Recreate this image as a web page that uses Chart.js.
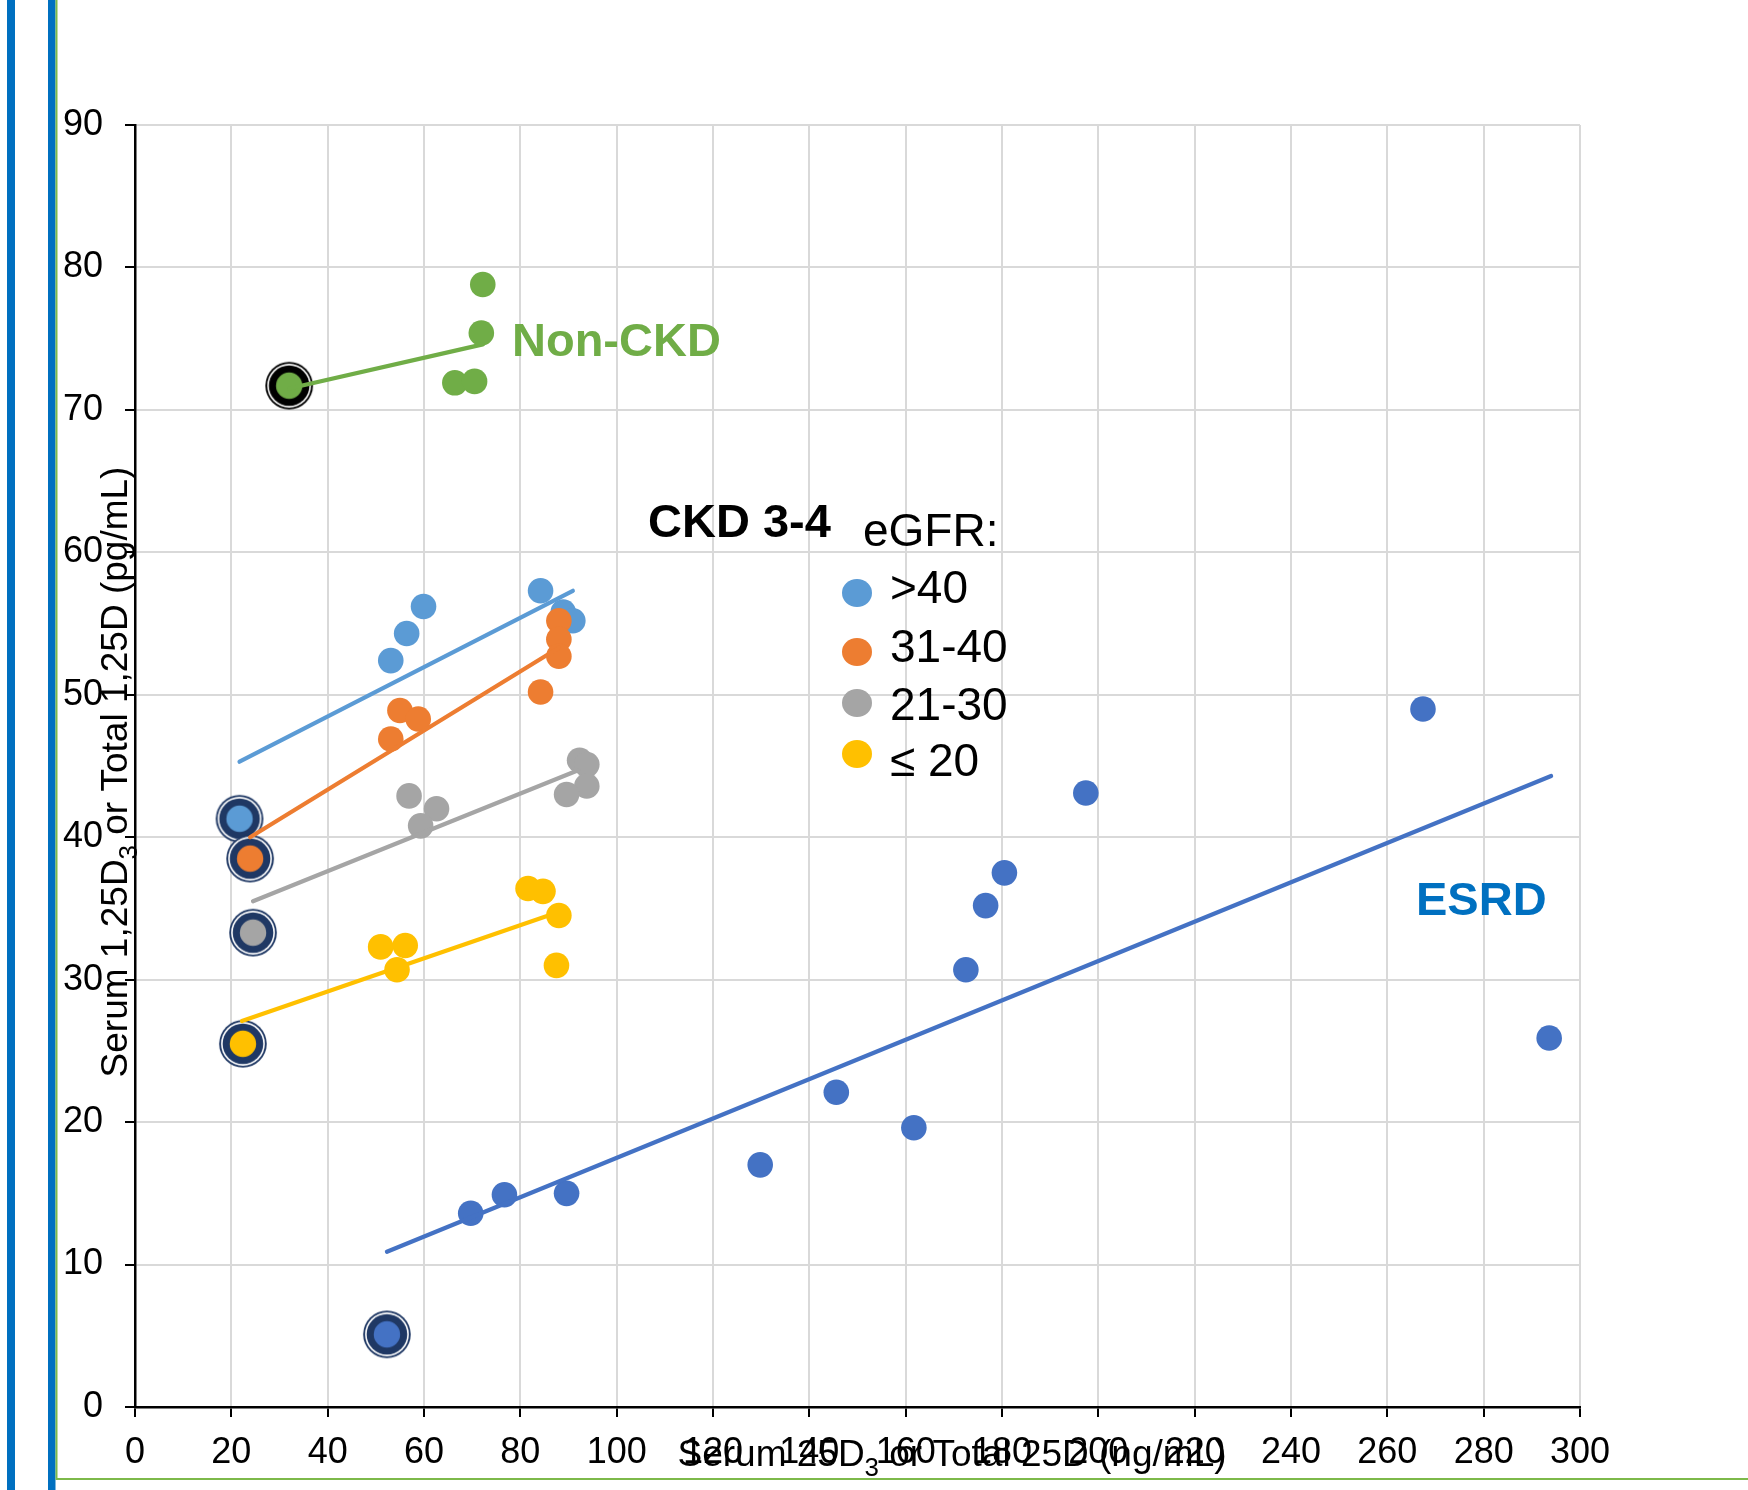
<!DOCTYPE html>
<html>
<head>
<meta charset="utf-8">
<title>Serum 1,25D vs 25D</title>
<script src="https://cdn.jsdelivr.net/npm/chart.js@4.4.1/dist/chart.umd.min.js"></script>
<style>
  html, body { margin: 0; padding: 0; background: #fff; }
  canvas { display: block; }
</style>
</head>
<body>
<canvas id="chart" width="1748" height="1490"></canvas>
<script>
// ---- axes ----
var xTicks = [0, 20, 40, 60, 80, 100, 120, 140, 160, 180, 200, 220, 240, 260, 280, 300];
var yTicks = [0, 10, 20, 30, 40, 50, 60, 70, 80, 90];

// ---- Non-CKD ----
var nonCkdBaseX = [32.0];
var nonCkdBaseY = [71.7];
var nonCkdX = [72.2, 71.9, 66.4, 70.5];
var nonCkdY = [78.8, 75.4, 71.9, 72.0];
var nonCkdTrendX = [32.0, 72.2];
var nonCkdTrendY = [71.5, 74.6];

// ---- CKD 3-4, eGFR >40 ----
var gfr40BaseX = [21.7];
var gfr40BaseY = [41.3];
var gfr40X = [53.1, 56.4, 59.9, 84.2, 88.9, 90.9];
var gfr40Y = [52.4, 54.3, 56.2, 57.3, 55.8, 55.2];
var gfr40TrendX = [21.7, 90.9];
var gfr40TrendY = [45.3, 57.3];

// ---- eGFR 31-40 ----
var gfr3140BaseX = [23.9];
var gfr3140BaseY = [38.5];
var gfr3140X = [53.1, 55.0, 58.8, 84.2, 88.0, 88.0, 88.0];
var gfr3140Y = [46.9, 48.9, 48.3, 50.2, 55.2, 53.9, 52.7];
var gfr3140TrendX = [23.9, 88.0];
var gfr3140TrendY = [40.0, 53.3];

// ---- eGFR 21-30 ----
var gfr2130BaseX = [24.5];
var gfr2130BaseY = [33.3];
var gfr2130X = [56.9, 62.6, 59.3, 92.3, 93.8, 93.8, 89.6];
var gfr2130Y = [42.9, 42.0, 40.8, 45.4, 45.1, 43.6, 43.0];
var gfr2130TrendX = [24.5, 92.0];
var gfr2130TrendY = [35.5, 44.7];

// ---- eGFR <= 20 ----
var gfr20BaseX = [22.4];
var gfr20BaseY = [25.5];
var gfr20X = [51.0, 56.1, 54.4, 81.6, 84.7, 88.0, 87.5];
var gfr20Y = [32.3, 32.4, 30.7, 36.4, 36.2, 34.5, 31.0];
var gfr20TrendX = [22.2, 87.5];
var gfr20TrendY = [27.1, 34.7];

// ---- ESRD ----
var esrdBaseX = [52.3];
var esrdBaseY = [5.1];
var esrdX = [69.7, 76.7, 89.6, 129.8, 145.6, 161.7, 172.5, 176.6, 180.5, 197.4, 267.4, 293.6];
var esrdY = [13.6, 14.9, 15.0, 17.0, 22.1, 19.6, 30.7, 35.2, 37.5, 43.1, 49.0, 25.9];
var esrdTrendX = [52.3, 294.0];
var esrdTrendY = [10.9, 44.3];

// ---- labels ----
var legendTitle = 'eGFR:';
var legendLabels = ['>40', '31-40', '21-30', '\u2264 20'];
var yTitleRuns = [{ t: 'Serum 1,25D' }, { t: '3', sub: true }, { t: ' or Total 1,25D (pg/mL)' }];
var xTitleRuns = [{ t: 'Serum 25D' }, { t: '3', sub: true }, { t: ' or Total 25D (ng/mL)' }];

// colours
var GREEN = '#70AD47', BLUE = '#5B9BD5', ORANGE = '#ED7D31', GRAY = '#A5A5A5',
    GOLD = '#FFC000', ESRD = '#4472C4', NAVY = '#1F3864';
var legendColors = [BLUE, ORANGE, GRAY, GOLD];
var FONT = '"Liberation Sans", Arial, sans-serif';

function pts(xs, ys) {
  return xs.map(function (x, i) { return { x: x, y: ys[i] }; });
}

// circled marker used for the baseline (first) point of each group
function ringMarker(fill, ring) {
  var c = document.createElement('canvas');
  c.width = c.height = 50;
  var g = c.getContext('2d');
  function disc(r, col) { g.beginPath(); g.arc(25, 25, r, 0, Math.PI * 2); g.fillStyle = col; g.fill(); }
  disc(23.8, ring); disc(21.9, '#fff'); disc(20.3, ring); disc(13.2, fill);
  return c;
}

function dots(xs, ys, color, order) {
  return { data: pts(xs, ys), backgroundColor: color, borderWidth: 0, pointRadius: 12.8, order: order };
}
function base(xs, ys, color, ring, order) {
  return { data: pts(xs, ys), pointStyle: ringMarker(color, ring), pointRadius: 24, order: order };
}
function trend(xs, ys, color) {
  return { data: pts(xs, ys), showLine: true, borderColor: color, borderWidth: 4.2,
           borderCapStyle: 'round', pointRadius: 0, order: 0 };
}

function drawRuns(ctx, runs, size) {
  var w = 0;
  runs.forEach(function (r) {
    ctx.font = (r.sub ? size * 0.7 : size) + 'px ' + FONT;
    r.w = ctx.measureText(r.t).width;
    w += r.w;
  });
  var x = -w / 2;
  runs.forEach(function (r) {
    ctx.font = (r.sub ? size * 0.7 : size) + 'px ' + FONT;
    ctx.fillText(r.t, x, r.sub ? size * 0.28 : 0);
    x += r.w;
  });
}

var decorations = {
  id: 'decorations',
  afterDraw: function (chart) {
    var ctx = chart.ctx;
    ctx.save();
    // slide frame
    ctx.fillStyle = '#0070C0';
    ctx.fillRect(7, 0, 8, 1490);
    ctx.fillRect(48, 0, 7.5, 1490);
    ctx.strokeStyle = '#7DB94A';
    ctx.lineWidth = 2;
    ctx.beginPath();
    ctx.moveTo(56.5, 0); ctx.lineTo(56.5, 1479); ctx.lineTo(1748, 1479);
    ctx.stroke();

    ctx.fillStyle = '#000';
    ctx.textBaseline = 'alphabetic';
    ctx.textAlign = 'left';
    // axis titles
    ctx.save();
    ctx.translate(127, 772);
    ctx.rotate(-Math.PI / 2);
    drawRuns(ctx, yTitleRuns, 37);
    ctx.restore();
    ctx.save();
    ctx.translate(952, 1466);
    drawRuns(ctx, xTitleRuns, 37);
    ctx.restore();

    // group labels
    ctx.font = 'bold 47px ' + FONT;
    ctx.fillStyle = GREEN;
    ctx.fillText('Non-CKD', 512, 356);
    ctx.fillStyle = '#000';
    ctx.fillText('CKD 3-4', 648, 537);
    ctx.fillStyle = '#0070C0';
    ctx.fillText('ESRD', 1416, 915);

    // legend
    ctx.fillStyle = '#000';
    ctx.font = '46px ' + FONT;
    ctx.fillText(legendTitle, 863, 546);
    var markY = [593, 652, 703, 754];
    var textY = [603, 662, 720, 776];
    legendLabels.forEach(function (lab, i) {
      ctx.fillStyle = legendColors[i];
      ctx.beginPath();
      ctx.ellipse(857, markY[i], 15, 14, 0, 0, Math.PI * 2);
      ctx.fill();
      ctx.fillStyle = '#000';
      ctx.fillText(lab, 890, textY[i]);
    });
    ctx.restore();
  }
};

function axis(ticks, step, fit) {
  return {
    type: 'linear',
    min: ticks[0],
    max: ticks[ticks.length - 1],
    ticks: { stepSize: step, color: '#000', font: { size: 36 } },
    grid: { color: '#D9D9D9', lineWidth: 2, tickColor: '#000', tickLength: 10, tickWidth: 2 },
    border: { color: '#000', width: 2.5 },
    afterFit: fit
  };
}

Chart.defaults.font.family = FONT;

var xScale = axis(xTicks, xTicks[1] - xTicks[0], function (s) { s.height = 83; });
xScale.ticks.padding = 14;
var yScale = axis(yTicks, yTicks[1] - yTicks[0], function (s) { s.width = 135; });
yScale.ticks.padding = 22;

new Chart(document.getElementById('chart').getContext('2d'), {
  type: 'scatter',
  data: {
    datasets: [
      trend(nonCkdTrendX, nonCkdTrendY, GREEN),
      trend(gfr40TrendX, gfr40TrendY, BLUE),
      trend(gfr3140TrendX, gfr3140TrendY, ORANGE),
      trend(gfr2130TrendX, gfr2130TrendY, GRAY),
      trend(gfr20TrendX, gfr20TrendY, GOLD),
      trend(esrdTrendX, esrdTrendY, ESRD),
      base(gfr3140BaseX, gfr3140BaseY, ORANGE, NAVY, 1),
      base(gfr40BaseX, gfr40BaseY, BLUE, NAVY, 1),
      base(gfr2130BaseX, gfr2130BaseY, GRAY, NAVY, 1),
      base(gfr20BaseX, gfr20BaseY, GOLD, NAVY, 1),
      base(nonCkdBaseX, nonCkdBaseY, GREEN, '#000', 1),
      base(esrdBaseX, esrdBaseY, ESRD, NAVY, 1),
      dots(gfr3140X, gfr3140Y, ORANGE, 2),
      dots(nonCkdX, nonCkdY, GREEN, 3),
      dots(gfr40X, gfr40Y, BLUE, 3),
      dots(gfr2130X, gfr2130Y, GRAY, 3),
      dots(gfr20X, gfr20Y, GOLD, 3),
      dots(esrdX, esrdY, ESRD, 3)
    ]
  },
  options: {
    responsive: false,
    devicePixelRatio: 1,
    animation: false,
    layout: { padding: { left: 0, top: 125, right: 168, bottom: 0 } },
    plugins: { legend: { display: false }, tooltip: { enabled: false }, title: { display: false } },
    scales: { x: xScale, y: yScale }
  },
  plugins: [decorations]
});
</script>
</body>
</html>
